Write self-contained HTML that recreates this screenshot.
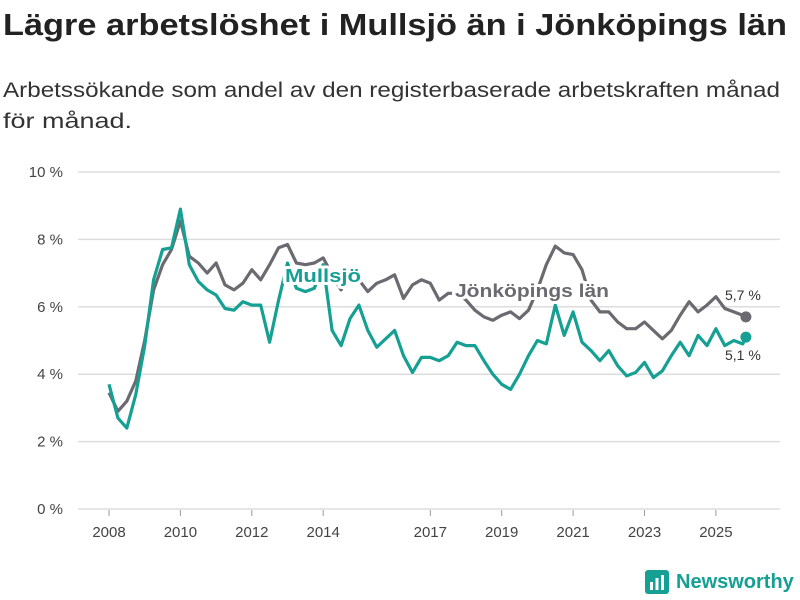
<!DOCTYPE html>
<html><head><meta charset="utf-8"><style>
body{margin:0;width:800px;height:600px;background:#fff;font-family:"Liberation Sans",sans-serif;overflow:hidden;position:relative}
svg{position:absolute;left:0;top:0}
</style></head><body>
<svg id="c" width="800" height="600">
<text x="3" y="35" font-size="31" font-weight="bold" fill="#222" textLength="784" lengthAdjust="spacingAndGlyphs">Lägre arbetslöshet i Mullsjö än i Jönköpings län</text>
<text x="3" y="97" font-size="21" fill="#333" textLength="777" lengthAdjust="spacingAndGlyphs">Arbetssökande som andel av den registerbaserade arbetskraften månad</text>
<text x="3" y="128" font-size="21" fill="#333" textLength="129" lengthAdjust="spacingAndGlyphs">för månad.</text>
</svg>
<script>
const yTicks=[0,2,4,6,8,10];
const xTickYears=[2008,2010,2012,2014,2017,2019,2021,2023,2025];
const jonkoping=[3.45,2.9,3.2,3.8,5.0,6.5,7.25,7.7,8.55,7.5,7.3,7.0,7.3,6.65,6.5,6.7,7.1,6.8,7.25,7.75,7.85,7.3,7.25,7.3,7.45,6.95,6.5,7.1,6.8,6.45,6.7,6.8,6.95,6.25,6.65,6.8,6.7,6.2,6.4,6.4,6.2,5.9,5.7,5.6,5.75,5.85,5.65,5.9,6.5,7.25,7.8,7.6,7.55,7.1,6.2,5.85,5.85,5.55,5.35,5.35,5.55,5.3,5.05,5.3,5.75,6.15,5.85,6.05,6.3,5.95,5.85,5.75,5.7];
const mullsjo=[3.7,2.7,2.4,3.4,4.85,6.8,7.7,7.75,8.9,7.25,6.75,6.5,6.35,5.95,5.9,6.15,6.05,6.05,4.95,6.2,7.3,6.55,6.45,6.55,7.25,5.3,4.85,5.65,6.05,5.3,4.8,5.05,5.3,4.55,4.05,4.5,4.5,4.4,4.55,4.95,4.85,4.85,4.4,4.0,3.7,3.55,4.0,4.55,5.0,4.9,6.05,5.15,5.85,4.95,4.7,4.4,4.7,4.25,3.95,4.05,4.35,3.9,4.1,4.55,4.95,4.55,5.15,4.85,5.35,4.85,5.0,4.9,5.1];
const startYear=2008, step=0.25, lastYear=2025.84;
function xs(t){return 109+(t-2008)*35.7}
function ys(v){return 509-v*33.7}
function tOf(i,n){return i===n-1?lastYear:startYear+i*step}
const svg=document.getElementById('c');const NS='http://www.w3.org/2000/svg';
function mk(tag,at,txt){const e=document.createElementNS(NS,tag);for(const k in at)e.setAttribute(k,at[k]);if(txt!=null)e.textContent=txt;svg.appendChild(e);return e}
yTicks.forEach(v=>{
 const l=mk('line',{x1:78,x2:780,y1:ys(v),y2:ys(v),stroke:'#ddd','stroke-width':1.5});
 
 
 const t=mk('text',{x:63,y:ys(v)+5,'text-anchor':'end','font-size':15,fill:'#444'},v+' %');
 
 
});
xTickYears.forEach(y=>{
 const l=mk('line',{x1:xs(y),x2:xs(y),y1:510,y2:516,stroke:'#999','stroke-width':1});
 
 
 const t=mk('text',{x:xs(y),y:537,'text-anchor':'middle','font-size':15,fill:'#444'},String(y));
 
 
});
function series(arr,color,name){
 const d=arr.map((v,i)=>(i?'L':'M')+xs(tOf(i,arr.length)).toFixed(1)+','+ys(v).toFixed(1)).join('');
 const p=mk('path',{d:d,fill:'none',stroke:color,'stroke-width':3.2,'stroke-linejoin':'round'});
 
 
 const n=arr.length;
 const c=mk('circle',{cx:xs(lastYear),cy:ys(arr[n-1]),r:5.5,fill:color});
 
 
}
series(jonkoping,'#6b6a70','jonkoping');
series(mullsjo,'#15a093','mullsjo');
function lab(x,y,txt,col,name,bold,size,len){
 const at={x:x,y:y,'font-size':size,'font-weight':bold?'bold':'normal',fill:col,stroke:'#fff','stroke-width':bold?6:4,'paint-order':'stroke','stroke-linejoin':'round'};
 if(len){at.textLength=len;at.lengthAdjust='spacingAndGlyphs';}
 const t=mk('text',at,txt);
 
 
}
lab(285,282,'Mullsjö','#15a093','mullsjo-label',true,18,76);
lab(455,297,'Jönköpings län','#6b6a70','jonkoping-label',true,18,154);
lab(725,300,'5,7 %','#333','jonkoping-end-value',false,14);
lab(725,360,'5,1 %','#333','mullsjo-end-value',false,14);
</script>
<div style="position:absolute;left:645px;top:570px;display:flex;align-items:center;gap:7px">
<svg width="24" height="24" style="position:static"><rect width="24" height="24" rx="3" fill="#15a093"/><rect x="5" y="12" width="3" height="8" fill="#fff"/><rect x="10.5" y="8" width="3" height="12" fill="#fff"/><rect x="16" y="5" width="3" height="15" fill="#fff"/></svg>
<span style="font-size:20px;font-weight:bold;color:#15a093">Newsworthy</span></div>
</body></html>
